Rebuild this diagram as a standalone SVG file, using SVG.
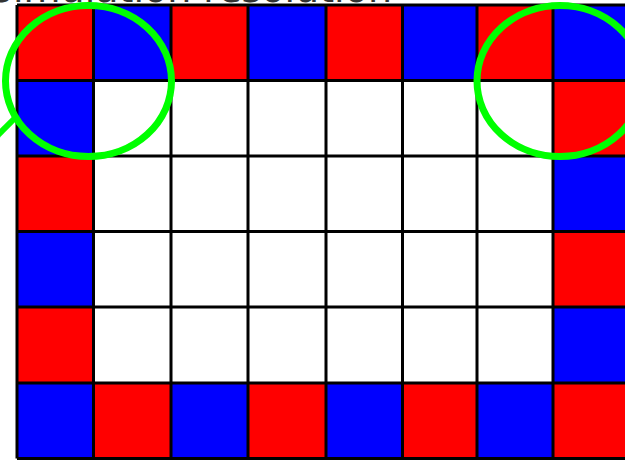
<svg xmlns="http://www.w3.org/2000/svg" width="625" height="460" viewBox="0 0 625 460">
<style>
.r{fill:#ff0000}
.b{fill:#0000ff}
.w{fill:#ffffff}
.g{fill:none;stroke:#000000;stroke-width:3}
.hl{fill:none;stroke:#00ff00;stroke-width:7}
.t{font-family:"DejaVu Sans",sans-serif;font-size:38px;fill:#333333}
</style>
<rect x="0" y="0" width="625" height="460" fill="#ffffff"/>
<text class="t" x="392" y="2" text-anchor="end">Simulation resolution</text>
<line x1="-10" y1="143" x2="15" y2="118" stroke="#00ff00" stroke-width="6"/>
<g id="cells">
<!-- top row -->
<rect class="r" x="17" y="5" width="76.5" height="75.5"/>
<rect class="b" x="93.5" y="5" width="77.5" height="75.5"/>
<rect class="r" x="171" y="5" width="77" height="75.5"/>
<rect class="b" x="248" y="5" width="78" height="75.5"/>
<rect class="r" x="326" y="5" width="76.5" height="75.5"/>
<rect class="b" x="402.5" y="5" width="74.5" height="75.5"/>
<rect class="r" x="477" y="5" width="76" height="75.5"/>
<rect class="b" x="553" y="5" width="77" height="75.5"/>
<!-- left column -->
<rect class="b" x="17" y="80.5" width="76.5" height="75.5"/>
<rect class="r" x="17" y="156" width="76.5" height="75.5"/>
<rect class="b" x="17" y="231.5" width="76.5" height="75.5"/>
<rect class="r" x="17" y="307" width="76.5" height="76"/>
<!-- right column -->
<rect class="r" x="553" y="80.5" width="77" height="75.5"/>
<rect class="b" x="553" y="156" width="77" height="75.5"/>
<rect class="r" x="553" y="231.5" width="77" height="75.5"/>
<rect class="b" x="553" y="307" width="77" height="76"/>
<!-- bottom row -->
<rect class="b" x="17" y="383" width="76.5" height="75.5"/>
<rect class="r" x="93.5" y="383" width="77.5" height="75.5"/>
<rect class="b" x="171" y="383" width="77" height="75.5"/>
<rect class="r" x="248" y="383" width="78" height="75.5"/>
<rect class="b" x="326" y="383" width="76.5" height="75.5"/>
<rect class="r" x="402.5" y="383" width="74.5" height="75.5"/>
<rect class="b" x="477" y="383" width="76" height="75.5"/>
<rect class="r" x="553" y="383" width="77" height="75.5"/>
</g>
<g id="gridlines" class="g">
<path d="M17,5V458.5M93.5,5V458.5M171,5V458.5M248,5V458.5M326,5V458.5M402.5,5V458.5M477,5V458.5M553,5V458.5M630,5V458.5"/>
<path d="M17,5H630M17,80.5H630M17,156H630M17,231.5H630M17,307H630M17,383H630M17,458.5H630"/>
</g>
<g id="highlights">
<ellipse class="hl" cx="88.5" cy="81" rx="83" ry="75.5"/>
<ellipse class="hl" cx="560" cy="81" rx="83" ry="75.5"/>
</g>
</svg>
